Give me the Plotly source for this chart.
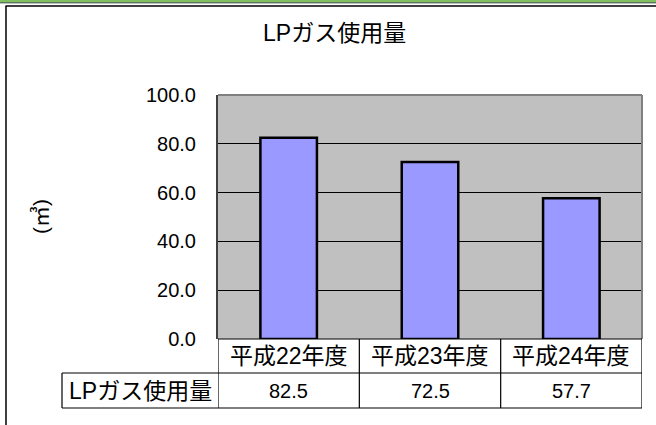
import plotly.graph_objects as go

categories = ["平成22年度", "平成23年度", "平成24年度"]
values = [82.5, 72.5, 57.7]
series_name = "LPガス使用量"
title_text = "LPガス使用量"
y_title = "(㎥)"
y_ticks = [0, 20, 40, 60, 80, 100]

W, H = 656, 425
L, R, T, B = 218, 642, 95, 339
FONT = "Liberation Sans, Arial, Noto Sans CJK JP, sans-serif"


def px(x):
    return (x - L) / (R - L)


def py(y):
    return (B - y) / (B - T)


xs = list(range(len(categories)))

fig = go.Figure()
fig.add_trace(go.Bar(
    x=xs, y=values, width=0.4,
    marker=dict(color="#9999FF", line=dict(color="black", width=2.5)),
    hoverinfo="skip", showlegend=False,
))

shapes = []
# top decorative lines
shapes.append(dict(type="line", xref="paper", yref="paper", x0=px(0), x1=px(W), y0=py(1), y1=py(1),
                   line=dict(color="#80c060", width=2)))
shapes.append(dict(type="line", xref="paper", yref="paper", x0=px(0), x1=px(W), y0=py(2.8), y1=py(2.8),
                   line=dict(color="#1a3a1a", width=1)))
# outer frame
shapes.append(dict(type="line", xref="paper", yref="paper", x0=px(5.5), x1=px(W), y0=py(6), y1=py(6),
                   line=dict(color="black", width=1.5)))
shapes.append(dict(type="line", xref="paper", yref="paper", x0=px(6), x1=px(6), y0=py(6), y1=py(H + 5),
                   line=dict(color="black", width=1.5)))
# plot border top/right
shapes.append(dict(type="line", xref="paper", yref="paper", x0=0, x1=1, y0=1, y1=1,
                   line=dict(color="#808080", width=2)))
shapes.append(dict(type="line", xref="paper", yref="paper", x0=1, x1=1, y0=0, y1=1,
                   line=dict(color="#808080", width=2)))
# data table lines
row1 = py(373)
row2 = py(408)
for yy in [0, row1, row2]:
    shapes.append(dict(type="line", xref="paper", yref="paper", x0=0, x1=1, y0=yy, y1=yy,
                       line=dict(color="black", width=1.2)))
for i in range(len(categories) + 1):
    xb = i - 0.5
    shapes.append(dict(type="line", xref="x", yref="paper", x0=xb, x1=xb, y0=0, y1=row2,
                       line=dict(color="black", width=1.2)))
# row label cell
lx = px(62)
shapes.append(dict(type="line", xref="paper", yref="paper", x0=lx, x1=0, y0=row1, y1=row1,
                   line=dict(color="black", width=1.2)))
shapes.append(dict(type="line", xref="paper", yref="paper", x0=lx, x1=0, y0=row2, y1=row2,
                   line=dict(color="black", width=1.2)))
shapes.append(dict(type="line", xref="paper", yref="paper", x0=lx, x1=lx, y0=row1, y1=row2,
                   line=dict(color="black", width=1.2)))

annotations = []
hdr_y = (0 + row1) / 2
val_y = (row1 + row2) / 2
for i, (c, v) in enumerate(zip(categories, values)):
    annotations.append(dict(x=i, y=hdr_y, xref="x", yref="paper", text=c, showarrow=False,
                            font=dict(size=23, color="black", family=FONT),
                            xanchor="center", yanchor="middle"))
    annotations.append(dict(x=i, y=val_y, xref="x", yref="paper", text=f"{v:.1f}", showarrow=False,
                            font=dict(size=20, color="black", family=FONT),
                            xanchor="center", yanchor="middle"))
annotations.append(dict(x=(lx + 0) / 2, y=val_y, xref="paper", yref="paper", text=series_name,
                        showarrow=False, font=dict(size=23, color="black", family=FONT),
                        xanchor="center", yanchor="middle"))
annotations.append(dict(x=px(40), y=0.5, xref="paper", yref="paper", text=y_title, showarrow=False,
                        textangle=-90, xanchor="center", yanchor="middle",
                        font=dict(size=21, color="black", family=FONT)))
annotations.append(dict(x=px(334), y=py(33), xref="paper", yref="paper", text=title_text, showarrow=False,
                        font=dict(size=23, color="black", family=FONT),
                        xanchor="center", yanchor="middle"))

fig.update_layout(
    width=W, height=H,
    margin=dict(l=L, r=W - R, t=T, b=H - B, pad=0),
    paper_bgcolor="white", plot_bgcolor="#C0C0C0",
    font=dict(family=FONT, color="black", size=20),
    shapes=shapes, annotations=annotations,
    bargap=0.6,
)
fig.update_xaxes(range=[-0.5, 2.5], showticklabels=False, showgrid=False, zeroline=False,
                 showline=False, ticks="", fixedrange=True)
fig.update_yaxes(range=[0, 100], tickvals=y_ticks, tickformat=".1f", showgrid=True,
                 gridcolor="black", gridwidth=1, zeroline=False, showline=True,
                 linecolor="#404040", linewidth=2, ticks="inside", ticklen=7, tickcolor="black",
                 tickfont=dict(size=20, family=FONT), ticklabelstandoff=16, fixedrange=True)

fig.write_html("out.html", config={"displayModeBar": False},
               post_script="document.body.style.margin='0';document.body.style.overflow='hidden';")
